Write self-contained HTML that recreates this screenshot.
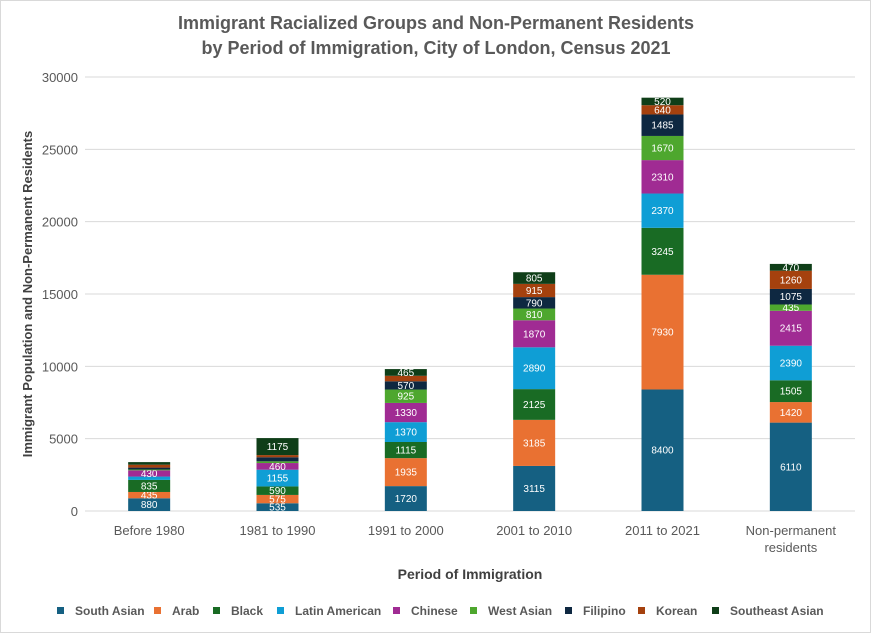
<!DOCTYPE html>
<html><head><meta charset="utf-8">
<style>
body{margin:0;background:#fff;}
#wrap{position:relative;width:871px;height:633px;font-family:"Liberation Sans",sans-serif;}
</style></head>
<body>
<div id="wrap">
<svg id="chart" width="871" height="633" xmlns="http://www.w3.org/2000/svg">
<rect x="0.5" y="0.5" width="870" height="632" fill="#fff" stroke="#d9d9d9"/>
<text x="436" y="29" text-anchor="middle" font-size="18" font-weight="bold" fill="#595959">Immigrant Racialized Groups and Non-Permanent Residents</text>
<text x="436" y="54" text-anchor="middle" font-size="18" font-weight="bold" fill="#595959">by Period of Immigration, City of London, Census 2021</text>
<text transform="translate(32,294) rotate(-90)" text-anchor="middle" font-size="13" font-weight="bold" fill="#404040">Immigrant  Population and Non-Permanent Residents</text>
<text x="470" y="579" text-anchor="middle" font-size="14" font-weight="bold" fill="#404040">Period of Immigration</text>
<g id="grid"></g><g id="bars"></g><g id="xlabels"></g><g id="legend"></g>
</svg>
</div>
<script>
const categories=["Before 1980","1981 to 1990","1991 to 2000","2001 to 2010","2011 to 2021","Non-permanent|residents"];
const seriesNames=["South Asian","Arab","Black","Latin American","Chinese","West Asian","Filipino","Korean","Southeast Asian"];
const southAsian=[880,535,1720,3115,8400,6110];
const arab=[435,575,1935,3185,7930,1420];
const black=[835,590,1115,2125,3245,1505];
const latinAmerican=[230,1155,1370,2890,2370,2390];
const chinese=[430,460,1330,1870,2310,2415];
const westAsian=[60,120,925,810,1670,435];
const filipino=[130,280,570,790,1485,1075];
const korean=[200,150,380,915,640,1260];
const southeastAsian=[180,1175,465,805,520,470];
const yTicks=[0,5000,10000,15000,20000,25000,30000];
const series=[southAsian,arab,black,latinAmerican,chinese,westAsian,filipino,korean,southeastAsian];
const colors=["#156082","#E97132","#196B24","#0F9ED5","#A02B93","#4EA72E","#0E2841","#A5410E","#0F3E18"];
const NS="http://www.w3.org/2000/svg";
const x0=85,x1=855,yTop=77,yBot=511,yMax=30000,bw=42;
const y=v=>yBot-(v/yMax)*(yBot-yTop);
const xc=i=>x0+(x1-x0)/categories.length*(i+0.5);
function mk(tag,attrs,parent){const e=document.createElementNS(NS,tag);for(const k in attrs)e.setAttribute(k,attrs[k]);parent.appendChild(e);return e;}
const grid=document.getElementById('grid');
yTicks.forEach(t=>{
  const l=mk('line',{x1:x0,x2:x1,y1:y(t),y2:y(t),stroke:'#d9d9d9','stroke-width':1},grid);
  
  
  const tx=mk('text',{x:x0-7,y:y(t)+5,'text-anchor':'end','font-size':13,fill:'#595959'},grid);
  tx.textContent=t;
  
  
});
const bars=document.getElementById('bars');
categories.forEach((c,i)=>{
  let cum=0;
  series.forEach((s,k)=>{
    const v=s[i];const ya=y(cum+v),yb=y(cum);
    const r=mk('rect',{x:xc(i)-bw/2,y:ya,width:bw,height:yb-ya,fill:colors[k]},bars);
    
    
    if(v>=400){
      const t=mk('text',{x:xc(i),y:(ya+yb)/2+3.5,'text-anchor':'middle','font-size':10,fill:'#fff'},bars);
      t.textContent=v;
      
      
    }
    cum+=v;
  });
  const parts=c.split('|');
  parts.forEach((p,j)=>{
    const t=mk('text',{x:xc(i),y:535+j*17,'text-anchor':'middle','font-size':13,fill:'#595959'},document.getElementById('xlabels'));
    t.textContent=p;
    
    
  });
});
const legPos=[57,154,213,277,393,470,565,638,712];
const leg=document.getElementById('legend');
seriesNames.forEach((n,k)=>{
  const r=mk('rect',{x:legPos[k],y:607,width:7,height:7,fill:colors[k]},leg);
  
  
  const t=mk('text',{x:legPos[k]+18,y:615,'font-size':12,'font-weight':'bold',fill:'#595959'},leg);
  t.textContent=n;
  
  
});
</script>
</body></html>
